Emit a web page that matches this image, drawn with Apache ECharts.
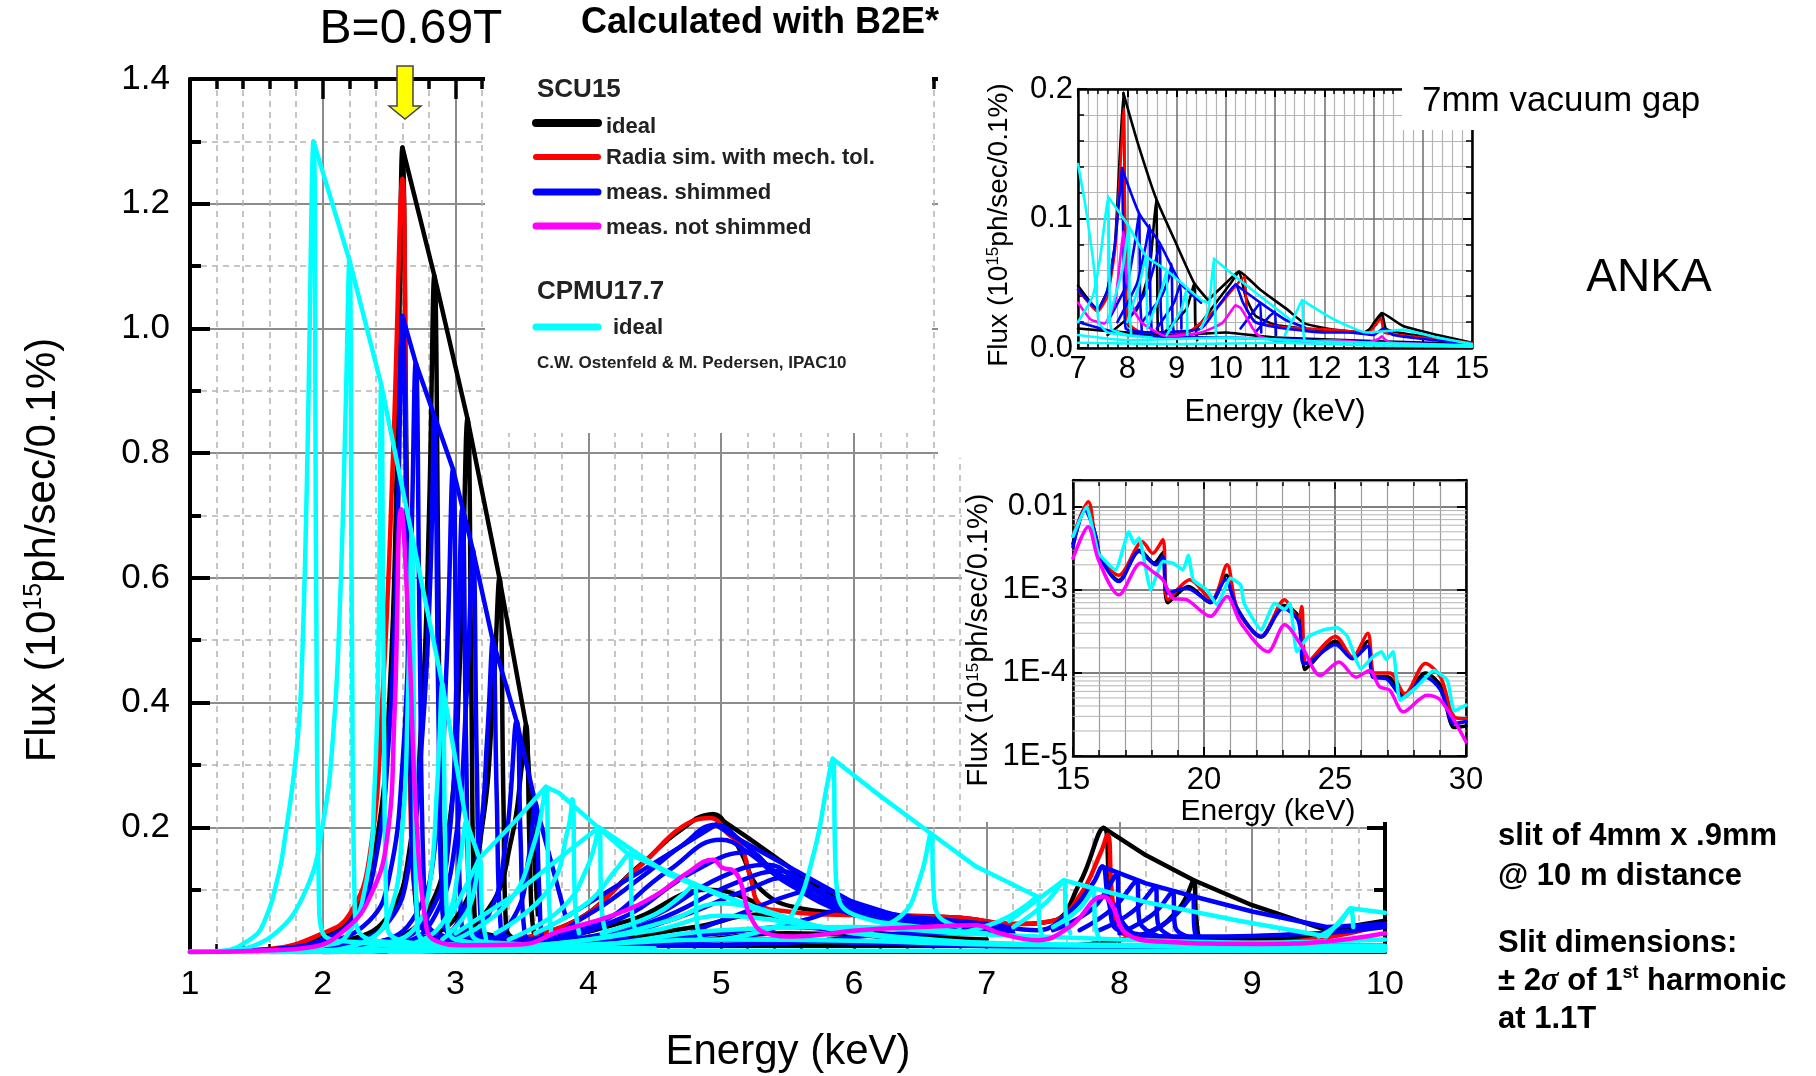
<!DOCTYPE html>
<html>
<head>
<meta charset="utf-8">
<script src="https://cdn.jsdelivr.net/npm/echarts@6/dist/echarts.min.js"></script>
<style>
html,body{margin:0;padding:0;background:#fff;}
#chart{width:1816px;height:1076px;}
</style>
</head>
<body>
<div id="chart"></div>
<script>
// ---------------- DATA ----------------
// Main chart: energy (keV) vs flux (1e15 ph/sec/0.1%)
const mainXTicks = [1, 10, 1];          // min, max, step
const mainYTicks = [0, 1.4, 0.2];

// SCU15 ideal (black) spectra
const mainBlackSpectra = [
  [[1,0],[1.6,0.004],[2.0,0.025],[2.25,0.07],[2.4,0.17],[2.5,0.4],[2.56,0.8],[2.6,1.29],[2.63,0.8],[2.66,0.3],[2.7,0.09],[2.8,0.035],[3.2,0.02],[3.8,0.04],[4.41,0.143],[4.66,0.19],[4.94,0.221],[5.05,0.2],[5.15,0.16],[5.3,0.1],[5.6,0.07],[6.2,0.06],[6.8,0.055],[7.2,0.045],[7.5,0.05],[7.7,0.11],[7.88,0.199],[7.93,0.1],[8.0,0.04],[8.3,0.025],[9.0,0.02],[9.6,0.03],[10,0.05]],
  [[1.4,0],[2.2,0.02],[2.5,0.06],[2.65,0.16],[2.75,0.4],[2.8,0.7],[2.84,1.085],[2.87,0.6],[2.89,0.15],[2.93,0.04],[3.5,0.02],[4.3,0.05],[4.9,0.1],[5.2,0.085],[5.5,0.05],[6.2,0.03],[7.0,0.02]],
  [[1.6,0],[2.5,0.02],[2.8,0.07],[2.95,0.2],[3.03,0.45],[3.09,0.855],[3.12,0.4],[3.14,0.08],[3.2,0.03],[4.0,0.02],[4.8,0.04],[5.3,0.06],[5.7,0.04],[6.5,0.02]],
  [[1.8,0],[2.7,0.02],[3.05,0.07],[3.2,0.2],[3.28,0.4],[3.33,0.6],[3.36,0.25],[3.38,0.04],[3.5,0.02],[4.5,0.015],[5.5,0.03],[6.5,0.02]],
  [[2.0,0],[2.9,0.02],[3.25,0.07],[3.42,0.18],[3.5,0.3],[3.53,0.365],[3.56,0.15],[3.59,0.03],[3.8,0.015],[5,0.01],[7,0.01]],
  [[7.6,0.01],[8.2,0.03],[8.45,0.07],[8.56,0.115],[8.58,0.05],[8.62,0.02],[9.0,0.012],[9.15,0.02],[9.25,0.012],[10,0.01]]
];
const mainBlackEnvelopes = [
  [[2.6,1.29],[2.84,1.085],[3.09,0.855],[3.33,0.6],[3.53,0.365],[3.62,0.06]],
  [[4.94,0.221],[5.19,0.185],[5.54,0.132],[5.9,0.08],[6.14,0.06]],
  [[7.88,0.199],[8.2,0.155],[8.56,0.115],[9.0,0.075],[9.56,0.035],[10,0.05]]
];

// Radia sim. with mech. tol. (red)
const mainRedSpectra = [
  [[1,0],[1.6,0.005],[2.0,0.03],[2.2,0.06],[2.35,0.15],[2.45,0.41],[2.53,0.8],[2.6,1.24],[2.63,0.7],[2.66,0.25],[2.7,0.08],[2.8,0.03],[3.2,0.02],[3.8,0.04],[4.4,0.14],[4.7,0.2],[4.92,0.215],[5.05,0.19],[5.15,0.17],[5.22,0.12],[5.3,0.075],[5.5,0.065],[5.8,0.06],[6.3,0.058],[6.8,0.055],[7.2,0.045],[7.5,0.05],[7.7,0.09],[7.86,0.16],[7.91,0.188],[7.95,0.08],[8.02,0.03],[8.3,0.02],[9.0,0.015],[9.6,0.025],[10,0.045]]
];

// meas. shimmed (blue)
const mainBlueSpectra = [
  [[1.0,0],[1.6,0.004],[2.0,0.02],[2.25,0.06],[2.4,0.15],[2.5,0.35],[2.56,0.65],[2.6,1.02],[2.63,0.7],[2.66,0.3],[2.7,0.08],[2.8,0.03],[3.2,0.015],[3.6,0.02],[4.0,0.06],[4.4,0.12],[4.7,0.17],[4.96,0.204],[5.14,0.18],[5.4,0.13],[5.7,0.09],[6.1,0.062],[6.5,0.055],[7.0,0.045],[7.38,0.035],[7.6,0.06],[7.8,0.11],[7.87,0.137],[7.92,0.08],[8.0,0.035],[8.5,0.025],[9.5,0.03],[10,0.04]],
  [[1.2,0],[2.0,0.015],[2.35,0.05],[2.5,0.12],[2.6,0.3],[2.66,0.6],[2.70,0.945],[2.73,0.5],[2.76,0.12],[2.8,0.04],[3.3,0.02],[4.0,0.04],[4.6,0.13],[5.0,0.18],[5.2,0.16],[5.5,0.11],[6.0,0.06],[6.6,0.045],[7.2,0.035]],
  [[1.4,0],[2.2,0.015],[2.5,0.05],[2.65,0.14],[2.75,0.35],[2.81,0.6],[2.84,0.86],[2.87,0.4],[2.9,0.08],[2.95,0.03],[3.5,0.02],[4.2,0.05],[4.8,0.13],[5.2,0.16],[5.4,0.13],[5.8,0.08],[6.2,0.05],[7.0,0.03]],
  [[1.6,0],[2.4,0.015],[2.7,0.06],[2.85,0.18],[2.93,0.45],[2.98,0.775],[3.01,0.35],[3.04,0.06],[3.1,0.03],[3.7,0.02],[4.4,0.05],[5.0,0.12],[5.35,0.14],[5.6,0.11],[6.0,0.07],[6.8,0.03]],
  [[1.7,0],[2.5,0.015],[2.8,0.06],[2.95,0.18],[3.01,0.45],[3.05,0.71],[3.08,0.32],[3.11,0.05],[3.2,0.025],[3.9,0.02],[4.5,0.05],[5.1,0.11],[5.45,0.13],[5.7,0.1],[6.1,0.065],[6.9,0.03]],
  [[1.8,0],[2.6,0.015],[2.85,0.06],[3.0,0.18],[3.08,0.4],[3.13,0.645],[3.16,0.3],[3.19,0.05],[3.3,0.02],[4.0,0.02],[4.6,0.05],[5.2,0.1],[5.5,0.12],[5.8,0.09],[6.2,0.06],[7.0,0.03]],
  [[2.0,0],[2.8,0.015],[3.05,0.06],[3.18,0.18],[3.24,0.35],[3.28,0.5],[3.31,0.25],[3.34,0.04],[3.5,0.02],[4.5,0.02],[5.0,0.05],[5.5,0.09],[5.75,0.1],[6.0,0.08],[6.5,0.05],[7.2,0.03]],
  [[2.2,0],[3.0,0.015],[3.25,0.06],[3.38,0.18],[3.46,0.37],[3.49,0.18],[3.52,0.03],[3.7,0.015],[5.0,0.02],[5.6,0.05],[6.0,0.07],[6.3,0.06],[7.0,0.04]],
  [[2.4,0],[3.2,0.015],[3.45,0.06],[3.55,0.15],[3.6,0.24],[3.63,0.1],[3.66,0.02],[4.0,0.01],[5.5,0.015],[6.5,0.03],[7.2,0.03]],
  [[7.5,0.035],[7.8,0.07],[7.98,0.125],[8.0,0.06],[8.1,0.03]],
  [[7.7,0.035],[7.95,0.07],[8.13,0.115],[8.15,0.05],[8.3,0.025]],
  [[7.85,0.035],[8.1,0.065],[8.27,0.105],[8.29,0.045],[8.45,0.02]],
  [[8.0,0.03],[8.25,0.06],[8.4,0.097],[8.42,0.04],[8.6,0.02]],
  [[8.2,0.03],[8.4,0.055],[8.55,0.09],[8.57,0.03],[8.8,0.015]],
  [[1.5,0],[3.0,0.005],[4.0,0.012],[5.0,0.03],[5.5,0.04],[6.2,0.025],[7.0,0.012],[10,0.006]],
  [[2,0],[4,0.008],[5.2,0.02],[6,0.015],[8,0.006],[10,0.004]]
];
const mainBlueEnvelopes = [
  [[2.6,1.02],[2.70,0.945],[2.84,0.86],[2.98,0.775],[3.13,0.645],[3.28,0.5],[3.46,0.37],[3.6,0.24],[3.83,0.056],[4.4,0.13],[4.96,0.204]],
  [[4.96,0.204],[5.14,0.18],[5.59,0.127],[6.14,0.062]],
  [[7.87,0.137],[8.2,0.11],[8.56,0.089],[9.0,0.065],[9.56,0.04],[10,0.045]]
];

// meas. not shimmed (magenta)
const mainMagentaSpectra = [
  [[1,0],[1.5,0.002],[1.92,0.008],[2.18,0.038],[2.35,0.086],[2.48,0.175],[2.54,0.38],[2.59,0.71],[2.65,0.5],[2.7,0.234],[2.78,0.04],[2.85,0.018],[3.05,0.011],[3.49,0.012],[3.78,0.033],[4.2,0.06],[4.5,0.09],[4.74,0.126],[4.94,0.148],[5.01,0.135],[5.09,0.131],[5.15,0.11],[5.22,0.057],[5.34,0.03],[5.54,0.025],[6.04,0.035],[6.5,0.04],[6.92,0.043],[7.1,0.03],[7.38,0.019],[7.63,0.041],[7.88,0.089],[7.95,0.073],[8.05,0.03],[8.3,0.017],[9.06,0.013],[9.56,0.017],[10,0.03]]
];

// CPMU17.7 ideal (cyan)
const mainCyanSpectra = [
  [[1.0,0],[1.25,0.002],[1.45,0.02],[1.55,0.044],[1.67,0.127],[1.72,0.19],[1.77,0.264],[1.81,0.34],[1.84,0.44],[1.88,0.75],[1.93,1.30],[1.95,0.6],[1.97,0.1],[2.0,0.03],[2.3,0.015],[3.0,0.008]],
  [[1.3,0],[1.62,0.026],[1.87,0.098],[2.0,0.205],[2.08,0.353],[2.13,0.56],[2.17,0.85],[2.2,1.11],[2.22,0.5],[2.24,0.08],[2.28,0.03],[2.6,0.015],[3.5,0.008]],
  [[1.6,0],[2.0,0.01],[2.18,0.026],[2.33,0.115],[2.39,0.264],[2.42,0.5],[2.44,0.91],[2.46,0.4],[2.48,0.06],[2.52,0.025],[2.9,0.012],[3.8,0.008]],
  [[1.9,0],[2.3,0.015],[2.5,0.06],[2.6,0.2],[2.64,0.4],[2.67,0.67],[2.69,0.3],[2.71,0.05],[2.76,0.02],[3.2,0.01],[4.2,0.006]],
  [[2.1,0],[2.5,0.015],[2.7,0.04],[2.8,0.1],[2.86,0.26],[2.9,0.43],[2.92,0.2],[2.94,0.04],[3.0,0.02],[3.5,0.01],[4.5,0.006]],
  [[2.3,0],[2.7,0.015],[2.93,0.056],[3.02,0.13],[3.08,0.21],[3.1,0.1],[3.12,0.03],[3.3,0.015],[4,0.01]],
  [[2.9,0.02],[3.1,0.07],[3.18,0.15],[3.2,0.06],[3.23,0.02]],
  [[3.0,0.02],[3.4,0.08],[3.6,0.18],[3.68,0.265],[3.7,0.1],[3.72,0.03]],
  [[3.3,0.03],[3.7,0.1],[3.85,0.2],[3.88,0.245],[3.9,0.08],[3.93,0.03]],
  [[3.6,0.03],[4.0,0.08],[4.2,0.13],[4.31,0.159],[4.33,0.06],[4.36,0.03]],
  [[4.1,0.03],[4.5,0.06],[4.7,0.09],[4.8,0.11],[4.82,0.04],[4.85,0.02]],
  [[3.4,0.02],[3.8,0.07],[4.0,0.14],[4.08,0.2],[4.1,0.07],[4.13,0.03]],
  [[5.0,0.02],[5.4,0.04],[5.54,0.062],[5.7,0.16],[5.8,0.27],[5.84,0.31],[5.86,0.15],[5.88,0.09],[6.0,0.06],[6.5,0.04],[7.0,0.03]],
  [[6.0,0.03],[6.35,0.057],[6.5,0.12],[6.58,0.19],[6.6,0.1],[6.63,0.06],[6.8,0.04]],
  [[6.8,0.03],[7.1,0.05],[7.3,0.075],[7.38,0.089],[7.4,0.04],[7.43,0.02]],
  [[7.2,0.04],[7.45,0.08],[7.58,0.115],[7.6,0.05],[7.63,0.03]],
  [[7.5,0.04],[7.7,0.07],[7.8,0.1],[7.82,0.04],[7.85,0.02]],
  [[9.5,0.025],[9.65,0.045],[9.74,0.07],[9.76,0.04]],
  [[1.0,0.0],[2.0,0.003],[3.0,0.006],[4.0,0.012],[5.0,0.02],[6.0,0.018],[7.0,0.012],[8.0,0.01],[9.0,0.008],[10.0,0.008]],
  [[1.0,0.0],[3.0,0.004],[4.0,0.02],[4.6,0.05],[5.0,0.078],[5.4,0.06],[6.0,0.03],[7.0,0.015],[8.5,0.01],[10.0,0.006]],
  [[2.0,0.0],[3.5,0.01],[4.5,0.035],[5.0,0.058],[5.6,0.045],[6.3,0.025],[7.5,0.012],[10.0,0.01]],
  [[2.5,0.0],[4.0,0.01],[5.0,0.035],[6.0,0.04],[6.8,0.03],[8.0,0.02],[9.0,0.015],[10.0,0.02]],
  [[1,0.001],[4,0.002],[7,0.002],[10,0.002]]
];
const mainCyanEnvelopes = [
  [[1.93,1.30],[2.2,1.11],[2.44,0.91],[2.67,0.67],[2.9,0.43],[3.08,0.21],[3.18,0.15]],
  [[2.95,0.05],[3.18,0.15],[3.45,0.21],[3.68,0.265],[3.78,0.255],[4.29,0.159],[4.79,0.11],[5.2,0.075],[5.52,0.05]],
  [[3.0,0.03],[3.43,0.09],[3.75,0.145],[4.08,0.2],[4.6,0.125],[5.0,0.09],[5.5,0.055]],
  [[5.84,0.31],[6.2,0.25],[6.58,0.19],[6.92,0.137],[7.38,0.089]],
  [[7.17,0.05],[7.58,0.115],[8.2,0.08],[8.9,0.05],[9.56,0.025],[9.74,0.07],[10.0,0.063]]
];

// Inset 1 (7-15 keV, linear)
const ins1XTicks = [7, 15, 1];
const ins1YTicks = [0, 0.2, 0.1];
const ins1Black = [
  [[7.0,0.048],[7.4,0.03],[7.6,0.045],[7.75,0.08],[7.85,0.15],[7.92,0.197],[7.96,0.08],[7.99,0.02],[8.2,0.012],[9.0,0.01],[9.4,0.015],[9.8,0.035],[10.1,0.05],[10.27,0.059],[10.4,0.04],[10.6,0.025],[11.0,0.018],[11.6,0.015],[12.2,0.013],[12.8,0.012],[13.05,0.018],[13.17,0.027],[13.25,0.015],[13.5,0.012],[14.2,0.008],[15,0.004]],
  [[7.6,0.01],[8.2,0.03],[8.45,0.06],[8.55,0.1],[8.59,0.115],[8.61,0.05],[8.63,0.01],[9.0,0.008]],
  [[8.7,0.01],[9.2,0.03],[9.36,0.05],[9.38,0.02],[9.42,0.006]],
  [[7.0,0.015],[8.0,0.012],[9.0,0.01],[10.0,0.012],[11.0,0.008],[15,0.003]],
  [[7.92,0.197],[8.2,0.16],[8.59,0.115],[9.0,0.08],[9.36,0.05],[9.64,0.037]],
  [[9.64,0.037],[10.0,0.05],[10.27,0.059],[10.7,0.045],[11.24,0.03],[11.6,0.019],[12.2,0.014],[12.85,0.012],[13.17,0.027],[13.6,0.017],[14.3,0.01],[15,0.004]]
];
const ins1Red = [
  [[7.0,0.045],[7.4,0.028],[7.6,0.04],[7.75,0.075],[7.86,0.14],[7.93,0.185],[7.96,0.07],[8.0,0.02],[8.3,0.012],[9.2,0.012],[9.8,0.03],[10.2,0.048],[10.38,0.055],[10.43,0.03],[10.6,0.02],[11.2,0.016],[12.2,0.014],[12.9,0.012],[13.15,0.023],[13.22,0.012],[14,0.008],[15,0.004]]
];
const ins1Blue = [
  [[7.0,0.045],[7.4,0.03],[7.6,0.045],[7.75,0.08],[7.85,0.12],[7.89,0.139],[7.93,0.06],[7.97,0.015],[8.5,0.012],[9.5,0.015],[9.9,0.035],[10.2,0.049],[10.35,0.035],[10.6,0.02],[11.2,0.015],[12.0,0.012],[12.5,0.012],[13.0,0.01],[13.2,0.015],[13.4,0.01],[14,0.007],[15,0.003]],
  [[7.6,0.02],[8.0,0.05],[8.15,0.08],[8.24,0.104],[8.26,0.04],[8.3,0.01]],
  [[7.8,0.02],[8.2,0.05],[8.38,0.08],[8.45,0.095],[8.47,0.035],[8.5,0.01]],
  [[8.0,0.02],[8.4,0.045],[8.58,0.068],[8.66,0.081],[8.68,0.03],[8.72,0.01]],
  [[8.3,0.02],[8.7,0.04],[8.85,0.055],[8.9,0.065],[8.92,0.02],[8.96,0.008]],
  [[8.6,0.015],[8.95,0.035],[9.08,0.05],[9.1,0.015]],
  [[10.3,0.015],[10.6,0.03],[10.7,0.035],[10.72,0.012]],
  [[10.6,0.012],[10.9,0.025],[11.0,0.028],[11.02,0.01]],
  [[7,0.02],[8,0.01],[10,0.008],[12,0.006],[15,0.002]],
  [[7.89,0.139],[8.24,0.104],[8.66,0.081],[9.08,0.05],[9.5,0.035]],
  [[10.2,0.049],[10.7,0.035],[11.2,0.022],[11.6,0.016]]
];
const ins1Magenta = [
  [[7.0,0.035],[7.26,0.022],[7.54,0.019],[7.75,0.035],[7.86,0.07],[7.92,0.09],[7.97,0.06],[8.03,0.045],[8.15,0.028],[8.31,0.019],[8.8,0.009],[9.5,0.012],[9.92,0.019],[10.1,0.028],[10.2,0.033],[10.3,0.031],[10.4,0.025],[10.55,0.015],[10.69,0.009],[11.24,0.004],[11.7,0.005],[12.15,0.006],[12.6,0.005],[12.85,0.004],[13.1,0.007],[13.17,0.009],[13.25,0.006],[13.4,0.004],[14,0.003],[15,0.001]]
];
const ins1Cyan = [
  [[7.0,0.142],[7.15,0.11],[7.3,0.07],[7.38,0.04],[7.42,0.02],[7.6,0.012],[8.5,0.008]],
  [[7.0,0.02],[7.3,0.04],[7.45,0.07],[7.55,0.1],[7.61,0.117],[7.64,0.05],[7.67,0.015],[8,0.01]],
  [[7.6,0.02],[7.9,0.06],[8.03,0.094],[8.05,0.03],[8.08,0.01]],
  [[8.0,0.02],[8.25,0.05],[8.38,0.071],[8.4,0.02]],
  [[8.4,0.015],[8.7,0.045],[8.8,0.06],[8.82,0.015]],
  [[8.8,0.01],[9.1,0.03],[9.2,0.045],[9.22,0.01]],
  [[9.5,0.015],[9.65,0.03],[9.72,0.055],[9.76,0.069],[9.78,0.03],[9.8,0.01]],
  [[11.2,0.01],[11.4,0.025],[11.55,0.037],[11.57,0.015],[11.6,0.005]],
  [[7.61,0.117],[8.03,0.094],[8.38,0.071],[8.8,0.06],[9.5,0.037],[9.64,0.035]],
  [[9.76,0.069],[10.2,0.055],[10.7,0.04],[11.24,0.024],[11.3,0.022]],
  [[11.55,0.037],[12.2,0.022],[12.85,0.012],[13.6,0.014],[14.3,0.008],[15,0.003]],
  [[7,0.01],[8,0.006],[10,0.008],[12,0.005],[15,0.002]],
  [[7,0.004],[9,0.003],[11,0.004],[13,0.002],[15,0.001]]
];

// Inset 2 (15-30 keV, log)
const ins2XTicks = [15, 30, 5];
const ins2YRange = [1e-5, 0.021];
const ins2YLabels = ['1E-5', '1E-4', '1E-3', '0.01'];
const ins2MinorMantissas = [2, 3, 4, 5, 6, 7, 8, 9];
const ins2Decades = [1e-5, 1e-4, 1e-3, 1e-2];
const ins2Black = [[15.0,3.6e-3],[15.5,1.0e-2],[15.9,4.0e-3],[16.05,2.4e-3],[16.75,1.3e-3],[17.55,3.0e-3],[18.1,2.1e-3],[18.43,2.8e-3],[18.62,7.0e-4],[19.4,1.1e-3],[20.25,7.0e-4],[20.85,1.5e-3],[21.27,6.0e-4],[22.18,2.7e-4],[23.05,6.5e-4],[23.65,4.5e-4],[23.85,1.1e-4],[24.1,1.3e-4],[25.02,2.4e-4],[25.67,1.5e-4],[26.25,2.4e-4],[26.5,9.0e-5],[27.0,9.0e-5],[27.64,5.2e-5],[28.45,1.0e-4],[29.03,7.0e-5],[29.55,2.2e-5],[30.0,2.3e-5]];
const ins2Red = [[15.0,4.4e-3],[15.58,1.15e-2],[15.97,2.75e-3],[16.75,1.5e-3],[17.65,3.8e-3],[18.04,2.75e-3],[18.43,4.0e-3],[18.62,7.6e-4],[19.46,1.32e-3],[20.3,7.6e-4],[20.88,2.0e-3],[21.27,5.8e-4],[22.18,2.75e-4],[23.08,7.6e-4],[23.6,4.4e-4],[23.73,6.3e-4],[23.92,1.3e-4],[25.02,2.75e-4],[25.67,1.55e-4],[26.25,3.0e-4],[26.51,1.0e-4],[27.09,1.0e-4],[27.67,5.6e-5],[28.45,1.3e-4],[29.03,8.9e-5],[29.55,2.95e-5],[30.0,2.8e-5]];
const ins2Blue = [[15.0,3.3e-3],[15.45,9.1e-3],[15.84,4.8e-3],[16.03,2.5e-3],[16.75,1.26e-3],[17.52,2.9e-3],[18.17,2.0e-3],[18.43,2.5e-3],[18.62,9.1e-4],[19.33,1.05e-3],[20.24,7.2e-4],[20.82,1.32e-3],[21.27,5.8e-4],[22.18,2.75e-4],[23.02,6.0e-4],[23.6,4.2e-4],[23.79,1.3e-4],[24.05,1.35e-4],[25.02,2.2e-4],[25.67,1.48e-4],[26.25,2.1e-4],[26.44,8.9e-5],[26.96,8.5e-5],[27.61,5.1e-5],[28.45,8.9e-5],[29.03,6.2e-5],[29.55,2.45e-5],[30.0,2.6e-5]];
const ins2Cyan = [[15.0,4.4e-3],[15.52,1.0e-2],[15.84,4.0e-3],[15.97,2.75e-3],[16.62,1.74e-3],[17.13,5.0e-3],[17.33,3.6e-3],[17.52,4.2e-3],[17.97,1.0e-3],[18.43,2.2e-3],[18.81,2.1e-3],[19.2,1.74e-3],[19.4,2.6e-3],[19.59,1.32e-3],[20.1,1.0e-3],[20.5,6.6e-4],[21.01,1.38e-3],[21.4,1.15e-3],[21.53,6.9e-4],[22.18,3.3e-4],[22.7,6.9e-4],[23.08,5.8e-4],[23.28,6.9e-4],[23.54,1.8e-4],[23.99,2.75e-4],[24.57,3.3e-4],[25.09,3.5e-4],[25.47,2.75e-4],[25.99,1.12e-4],[26.44,1.55e-4],[26.77,1.8e-4],[26.96,1.45e-4],[27.22,1.8e-4],[27.48,4.7e-5],[28.12,6.8e-5],[28.77,1.07e-4],[29.29,8.1e-5],[29.55,3.5e-5],[30.0,4.1e-5]];
const ins2Magenta = [[15.0,2.4e-3],[15.58,5.75e-3],[15.97,2.3e-3],[16.75,8.7e-4],[17.59,2.1e-3],[18.04,1.66e-3],[18.43,1.32e-3],[18.82,7.9e-4],[19.33,7.6e-4],[20.24,4.8e-4],[20.88,8.3e-4],[21.4,4.0e-4],[22.44,1.8e-4],[23.08,3.8e-4],[23.73,2.1e-4],[24.44,9.3e-5],[25.15,1.35e-4],[25.8,8.9e-5],[26.32,1.07e-4],[26.7,6.8e-5],[27.09,6.2e-5],[27.61,3.4e-5],[28.51,5.4e-5],[29.03,4.7e-5],[30.0,1.48e-5]];

// Legend / text content
const legendItems = ['ideal', 'Radia sim. with mech. tol.', 'meas. shimmed', 'meas. not shimmed'];
const colors = { black: '#000000', red: '#ff0000', blue: '#0000ff', magenta: '#ff00ff', cyan: '#00ffff' };

// ---------------- CHART ----------------
const FONT = '"Liberation Sans", Arial, Helvetica, sans-serif';
const chart = echarts.init(document.getElementById('chart'), null, { renderer: 'canvas' });

function lines(curves, color, width, xi, yi, z, smooth) {
  return curves.map(d => ({
    type: 'line', xAxisIndex: xi, yAxisIndex: yi, data: d,
    showSymbol: false, symbol: 'none', smooth: smooth, z: z, silent: true,
    animation: false, clip: true,
    lineStyle: { color: color, width: width, cap: 'round', join: 'round' }
  }));
}

// minor log grid lines of inset 2 (2..9 x each decade), drawn as horizontal rules on the log axis
const minorGrid = [];
ins2Decades.forEach(d => ins2MinorMantissas.forEach(m => {
  const v = m * d;
  if (v < ins2YRange[1]) minorGrid.push([[ins2XTicks[0], v], [ins2XTicks[1], v]]);
}));

const MW = 4.5, IW = 2.6, LW = 3.5, SM = 0.45;
const series = [].concat(
  lines(mainBlackSpectra, colors.black, MW, 0, 0, 2, SM),
  lines(mainBlackEnvelopes, colors.black, MW, 0, 0, 2, false),
  lines(mainRedSpectra, colors.red, MW, 0, 0, 3, SM),
  lines(mainBlueSpectra, colors.blue, MW, 0, 0, 4, SM),
  lines(mainBlueEnvelopes, colors.blue, MW, 0, 0, 4, false),
  lines(mainCyanSpectra, colors.cyan, MW, 0, 0, 5, SM),
  lines(mainCyanEnvelopes, colors.cyan, MW, 0, 0, 5, false),
  lines(mainMagentaSpectra, colors.magenta, MW, 0, 0, 6, SM),
  lines(ins1Black, colors.black, IW, 2, 2, 22, 0.15),
  lines(ins1Red, colors.red, IW, 2, 2, 22, 0.15),
  lines(ins1Blue, colors.blue, IW, 2, 2, 22, 0.15),
  lines(ins1Magenta, colors.magenta, IW, 2, 2, 22, 0.15),
  lines(ins1Cyan, colors.cyan, IW, 2, 2, 22, 0.15),
  lines(minorGrid, '#b4b4b4', 1, 4, 4, 21, false),
  lines([ins2Black], colors.black, LW, 4, 4, 22, 0.3),
  lines([ins2Red], colors.red, LW, 4, 4, 22, 0.3),
  lines([ins2Blue], colors.blue, LW, 4, 4, 22, 0.3),
  lines([ins2Cyan], colors.cyan, LW, 4, 4, 22, 0.15),
  lines([ins2Magenta], colors.magenta, LW, 4, 4, 22, 0.3)
);

function axLine(w) { return { show: true, onZero: false, lineStyle: { color: '#000', width: w } }; }
const lbl = (size, margin, extra) => Object.assign({ show: true, fontSize: size, margin: margin, color: '#000', fontFamily: FONT }, extra || {});

const xAxis = [
  { gridIndex: 0, type: 'value', min: mainXTicks[0], max: mainXTicks[1], interval: mainXTicks[2], position: 'bottom',
    axisLine: axLine(4), axisTick: { show: true, inside: true, length: 14, lineStyle: { color: '#000', width: 3 } },
    minorTick: { show: true, splitNumber: 5, length: 8, lineStyle: { color: '#000', width: 2.5 } },
    axisLabel: lbl(34, 16),
    splitLine: { show: true, lineStyle: { color: '#8c8c8c', width: 2 } },
    minorSplitLine: { show: true, lineStyle: { color: '#b2b2b2', width: 1.5, type: [6, 5] } } },
  { gridIndex: 0, type: 'value', min: mainXTicks[0], max: mainXTicks[1], interval: mainXTicks[2], position: 'top',
    axisLine: axLine(4), axisTick: { show: true, inside: true, length: 20, lineStyle: { color: '#000', width: 3.5 } },
    minorTick: { show: true, splitNumber: 5, length: 10, lineStyle: { color: '#000', width: 3.5 } },
    axisLabel: { show: false }, splitLine: { show: false } },
  { gridIndex: 1, z: 20, type: 'value', min: ins1XTicks[0], max: ins1XTicks[1], interval: ins1XTicks[2], position: 'bottom',
    axisLine: axLine(2.5), axisTick: { show: true, inside: true, length: 8, lineStyle: { color: '#000', width: 2 } },
    minorTick: { show: true, splitNumber: 5, length: 5, lineStyle: { color: '#000', width: 1.5 } },
    axisLabel: lbl(31, 6),
    splitLine: { show: true, lineStyle: { color: '#6e6e6e', width: 1.5 } },
    minorSplitLine: { show: true, lineStyle: { color: '#b4b4b4', width: 1.2 } } },
  { gridIndex: 1, z: 20, type: 'value', min: ins1XTicks[0], max: ins1XTicks[1], interval: ins1XTicks[2], position: 'top',
    axisLine: axLine(2.5), axisTick: { show: true, inside: true, length: 8, lineStyle: { color: '#000', width: 2 } },
    minorTick: { show: true, splitNumber: 5, length: 5, lineStyle: { color: '#000', width: 1.5 } },
    axisLabel: { show: false }, splitLine: { show: false } },
  { gridIndex: 2, z: 20, type: 'value', min: ins2XTicks[0], max: ins2XTicks[1], interval: ins2XTicks[2], position: 'bottom',
    axisLine: axLine(2.5), axisTick: { show: true, inside: true, length: 9, lineStyle: { color: '#000', width: 2 } },
    minorTick: { show: true, splitNumber: 5, length: 6, lineStyle: { color: '#000', width: 1.5 } },
    axisLabel: lbl(31, 9),
    splitLine: { show: true, lineStyle: { color: '#555', width: 1.5 } },
    minorSplitLine: { show: true, lineStyle: { color: '#9c9c9c', width: 1.2 } } },
  { gridIndex: 2, z: 20, type: 'value', min: ins2XTicks[0], max: ins2XTicks[1], interval: ins2XTicks[2], position: 'top',
    axisLine: axLine(2.5), axisTick: { show: true, inside: true, length: 9, lineStyle: { color: '#000', width: 2 } },
    minorTick: { show: true, splitNumber: 5, length: 6, lineStyle: { color: '#000', width: 1.5 } },
    axisLabel: { show: false }, splitLine: { show: false } }
];

const logFmt = v => {
  const l = Math.log10(v), e = Math.round(l);
  if (Math.abs(l - e) > 1e-6) return '';
  return ins2YLabels[e + 5] || '';
};

const yAxis = [
  { gridIndex: 0, type: 'value', min: mainYTicks[0], max: mainYTicks[1], interval: mainYTicks[2], position: 'left',
    axisLine: axLine(4), axisTick: { show: true, inside: true, length: 20, lineStyle: { color: '#000', width: 4 } },
    minorTick: { show: true, splitNumber: 2, length: 11, lineStyle: { color: '#000', width: 4 } },
    axisLabel: lbl(35, 20, { formatter: v => (v === 0 ? '' : v.toFixed(1)) }),
    splitLine: { show: true, lineStyle: { color: '#8c8c8c', width: 2 } },
    minorSplitLine: { show: true, lineStyle: { color: '#b2b2b2', width: 1.5, type: [6, 5] } } },
  { gridIndex: 0, type: 'value', min: mainYTicks[0], max: mainYTicks[1], interval: mainYTicks[2], position: 'right',
    axisLine: axLine(4), axisTick: { show: true, inside: true, length: 18, lineStyle: { color: '#000', width: 4 } },
    minorTick: { show: true, splitNumber: 2, length: 11, lineStyle: { color: '#000', width: 4 } },
    axisLabel: { show: false }, splitLine: { show: false } },
  { gridIndex: 1, z: 20, type: 'value', min: ins1YTicks[0], max: ins1YTicks[1], interval: ins1YTicks[2], position: 'left',
    axisLine: axLine(2.5), axisTick: { show: true, inside: true, length: 9, lineStyle: { color: '#000', width: 2 } },
    minorTick: { show: true, splitNumber: 5, length: 6, lineStyle: { color: '#000', width: 1.5 } },
    axisLabel: lbl(31, 5, { formatter: v => v.toFixed(1) }),
    splitLine: { show: true, lineStyle: { color: '#6e6e6e', width: 1.5 } },
    minorSplitLine: { show: true, lineStyle: { color: '#b4b4b4', width: 1.2 } } },
  { gridIndex: 1, z: 20, type: 'value', min: ins1YTicks[0], max: ins1YTicks[1], interval: ins1YTicks[2], position: 'right',
    axisLine: axLine(2.5), axisTick: { show: true, inside: true, length: 9, lineStyle: { color: '#000', width: 2 } },
    minorTick: { show: true, splitNumber: 5, length: 6, lineStyle: { color: '#000', width: 1.5 } },
    axisLabel: { show: false }, splitLine: { show: false } },
  { gridIndex: 2, z: 20, type: 'log', logBase: 10, min: ins2YRange[0], max: ins2YRange[1], splitNumber: 3, position: 'left',
    axisLine: axLine(2.5), axisTick: { show: true, inside: true, length: 9, lineStyle: { color: '#000', width: 2 } },
    axisLabel: lbl(31, 5, { formatter: logFmt }),
    splitLine: { show: true, lineStyle: { color: '#555', width: 1.5 } } },
  { gridIndex: 2, z: 20, type: 'log', logBase: 10, min: ins2YRange[0], max: ins2YRange[1], splitNumber: 3, position: 'right',
    axisLine: axLine(2.5), axisTick: { show: true, inside: true, length: 9, lineStyle: { color: '#000', width: 2 } },
    axisLabel: { show: false }, splitLine: { show: false } }
];

function T(text, x, y, size, weight, align, extra, rot) {
  const st = Object.assign({ text: text, fontSize: size, fontWeight: weight || 'normal', fontFamily: FONT, fill: '#000',
    align: align || 'left', textAlign: align || 'left', verticalAlign: 'middle', textVerticalAlign: 'middle' }, extra || {});
  const el = { type: 'text', x: x, y: y, z: 16, silent: true, style: st };
  if (rot) el.rotation = rot;
  return el;
}
const supRich = (fs) => ({ s: { fontSize: fs, fontFamily: FONT, verticalAlign: 'top', textVerticalAlign: 'top', fill: '#000' } });
const R = (x, y, w, h, z) => ({ type: 'rect', z: z, silent: true, shape: { x: x, y: y, width: w, height: h }, style: { fill: '#ffffff' } });
const L = (y, color, w) => ({ type: 'line', z: 15, silent: true, shape: { x1: 536, y1: y, x2: 598, y2: y }, style: { stroke: color, lineWidth: w, lineCap: 'round' } });

const graphic = [
  R(485, 52, 447, 381, 10),
  R(938, 0, 878, 458, 10),
  R(962, 458, 854, 364, 10),
  R(1402, 66, 330, 64, 30),
  // legend
  T('SCU15', 537, 90, 26, 'bold', 'left', { fill: '#222' }),
  L(123, colors.black, 8), L(157, colors.red, 6), L(192, colors.blue, 7), L(226, colors.magenta, 7), L(327, colors.cyan, 7),
  T(legendItems[0], 606, 127, 22, 'bold', 'left', { fill: '#222' }),
  T(legendItems[1], 606, 158, 22, 'bold', 'left', { fill: '#222' }),
  T(legendItems[2], 606, 193, 22, 'bold', 'left', { fill: '#222' }),
  T(legendItems[3], 606, 228, 22, 'bold', 'left', { fill: '#222' }),
  T('CPMU17.7', 537, 292, 26, 'bold', 'left', { fill: '#222' }),
  T('ideal', 613, 328, 22, 'bold', 'left', { fill: '#222' }),
  T('C.W. Ostenfeld & M. Pedersen, IPAC10', 537, 363, 17, 'bold', 'left', { fill: '#222' }),
  // titles
  T('B=0.69T', 411, 30, 48, 'normal', 'center'),
  T('Calculated with B2E*', 760, 23, 36, 'bold', 'center'),
  { type: 'polygon', z: 17, silent: true,
    shape: { points: [[397, 66], [413, 66], [413, 106], [421, 106], [405, 119], [389, 106], [397, 106]] },
    style: { fill: '#ffff00', stroke: '#444', lineWidth: 1.5 } },
  // axis titles
  T('Energy (keV)', 788, 1052, 42, 'normal', 'center'),
  T('Flux (10{s|15}ph/sec/0.1%)', 43, 550, 42, 'normal', 'center', { rich: supRich(25) }, Math.PI / 2),
  T('Energy (keV)', 1275, 412, 31, 'normal', 'center', { z: 25 }),
  T('Flux (10{s|15}ph/sec/0.1%)', 999, 225, 28, 'normal', 'center', { rich: supRich(17) }, Math.PI / 2),
  T('Energy (keV)', 1268, 812, 30, 'normal', 'center'),
  T('Flux (10{s|15}ph/sec/0.1%)', 979, 640, 29, 'normal', 'center', { rich: supRich(17) }, Math.PI / 2),
  // annotations
  Object.assign(T('7mm vacuum gap', 1422, 101, 35, 'normal', 'left'), { z: 31 }),
  T('ANKA', 1649, 278, 46, 'normal', 'center'),
  T('slit of 4mm x .9mm', 1498, 836, 31, 'bold', 'left'),
  T('@ 10 m distance', 1498, 876, 31, 'bold', 'left'),
  T('Slit dimensions:', 1498, 943, 31, 'bold', 'left'),
  T('± 2{i|σ} of 1{s|st} harmonic', 1498, 981, 31, 'bold', 'left', { rich: {
      i: { fontSize: 33, fontStyle: 'italic', fontWeight: 'bold', fontFamily: '"Liberation Serif", "DejaVu Serif", serif', fill: '#000' },
      s: { fontSize: 18, fontWeight: 'bold', fontFamily: FONT, verticalAlign: 'top', textVerticalAlign: 'top', fill: '#000' } } }),
  T('at 1.1T', 1498, 1019, 31, 'bold', 'left')
];

chart.setOption({
  animation: false,
  backgroundColor: '#ffffff',
  grid: [
    { left: 190, top: 79, width: 1195, height: 873, containLabel: false },
    { left: 1078, top: 89, width: 394, height: 259, containLabel: false },
    { left: 1073, top: 480, width: 393, height: 276, containLabel: false }
  ],
  xAxis: xAxis,
  yAxis: yAxis,
  series: series,
  graphic: { elements: graphic }
});
</script>
</body>
</html>
